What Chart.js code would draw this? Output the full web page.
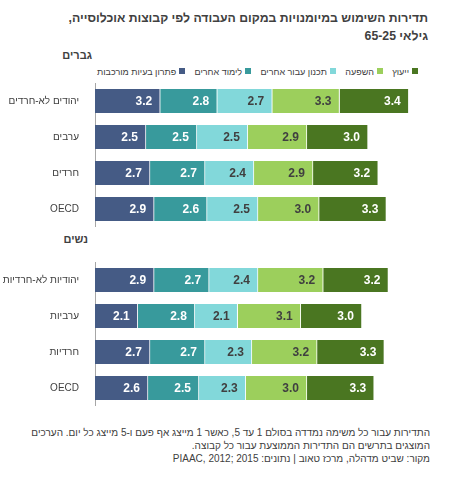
<!DOCTYPE html>
<html>
<head>
<meta charset="utf-8">
<script src="https://cdn.jsdelivr.net/npm/chart.js@4.4.1/dist/chart.umd.min.js"></script>
<style>
  body { margin: 0; background: #fff; font-family: Arial, "Liberation Sans", sans-serif; }
  #wrap { position: relative; width: 471px; height: 498px; overflow: hidden; }
  .title { position: absolute; right: 43px; top: 9px; direction: rtl; text-align: right; white-space: nowrap;
           font-weight: bold; font-size: 15px; line-height: 18px; color: #404040; }
  .section { position: absolute; direction: rtl; text-align: right; font-weight: bold;
             font-size: 11px; color: #404040; white-space: nowrap; }
  #legend { position: absolute; left: 97px; top: 65px; width: 321px; height: 14px; direction: rtl;
            display: flex; justify-content: space-between; align-items: center; white-space: nowrap;
            font-size: 9px; color: #404040; }
  #legend span.box { display: inline-block; width: 6px; height: 6px; margin-left: 3px; vertical-align: 1px; }
  .box-wrap { position: absolute; left: 0; width: 421px; height: 144px; }
  .note { position: absolute; right: 41px; top: 426px; direction: rtl; text-align: right; white-space: nowrap;
          font-size: 11px; line-height: 13px; color: #404040; }
</style>
</head>
<body>
<div id="wrap">
  <div class="title" id="title"><span id="t1">תדירות השימוש במיומנויות במקום העבודה לפי קבוצות אוכלוסייה,</span><br>גילאי 25&rlm;-&rlm;65</div>
  <div class="section" style="right:379px; top:49px;">גברים</div>
  <div id="legend"></div>
  <div class="box-wrap" style="top:83px;"><canvas id="men"></canvas></div>
  <div class="section" style="right:383px; top:233px;">נשים</div>
  <div class="box-wrap" style="top:262px;"><canvas id="women"></canvas></div>
  <div class="note" id="note"><span id="n1">התדירות עבור כל משימה נמדדה בסולם 1 עד 5, כאשר 1 מייצג אף פעם ו-5 מייצג כל יום. הערכים</span><br>המוצגים בתרשים הם התדירות הממוצעת עבור כל קבוצה.<br>מקור: שביט מדהלה, מרכז טאוב | נתונים: PIAAC, 2012; 2015</div>
</div>
<script>
// categories
var menGroups = ['יהודים לא-חרדים', 'ערבים', 'חרדים', 'OECD'];
var womenGroups = ['יהודיות לא-חרדיות', 'ערביות', 'חרדיות', 'OECD'];
var skills = ['פתרון בעיות מורכבות', 'לימוד אחרים', 'תכנון עבור אחרים', 'השפעה', 'ייעוץ'];

// men, one array per skill
var menProblem = [3.2, 2.5, 2.7, 2.9];
var menTeach = [2.8, 2.5, 2.7, 2.6];
var menPlan = [2.7, 2.5, 2.4, 2.5];
var menInfluence = [3.3, 2.9, 2.9, 3.0];
var menAdvise = [3.4, 3.0, 3.2, 3.3];

// women
var womenProblem = [2.9, 2.1, 2.7, 2.6];
var womenTeach = [2.7, 2.8, 2.7, 2.5];
var womenPlan = [2.4, 2.1, 2.3, 2.3];
var womenInfluence = [3.2, 3.1, 3.2, 3.0];
var womenAdvise = [3.2, 3.0, 3.3, 3.3];

var colors = ['#455b85', '#389a9c', '#82d8da', '#9ccf5c', '#4a7621'];
var labelColors = ['#ffffff', '#ffffff', '#404040', '#404040', '#ffffff'];

// shrink a block's font until a given line is no wider than the original
function fitWidth(block, line, target, size) {
    block.style.fontSize = size + 'px';
    while (line.getBoundingClientRect().width > target && size > 6) {
        size -= 0.25;
        block.style.fontSize = size + 'px';
    }
}
fitWidth(document.getElementById('title'), document.getElementById('t1'), 362, 15);
fitWidth(document.getElementById('note'), document.getElementById('n1'), 402, 11);

// html legend, drawn right to left like the original
var legend = document.getElementById('legend');
for (var i = skills.length - 1; i >= 0; i--) {
    var item = document.createElement('div');
    item.innerHTML = '<span class="box" style="background:' + colors[i] + '"></span>' + skills[i];
    legend.appendChild(item);
}

var valueLabels = {
    id: 'valueLabels',
    afterDatasetsDraw: function(chart) {
        var ctx = chart.ctx;
        ctx.save();
        ctx.font = 'bold 12px Arial, "Liberation Sans", sans-serif';
        ctx.textAlign = 'right';
        ctx.textBaseline = 'middle';
        chart.data.datasets.forEach(function(ds, di) {
            var meta = chart.getDatasetMeta(di);
            ctx.fillStyle = labelColors[di];
            meta.data.forEach(function(bar, j) {
                ctx.fillText(ds.data[j].toFixed(1), bar.x - 8, bar.y + 1);
            });
        });
        ctx.restore();
    }
};

function makeChart(id, groups, series) {
    var datasets = series.map(function(vals, i) {
        return {
            label: skills[i],
            data: vals,
            backgroundColor: colors[i],
            borderColor: '#ffffff',
            borderWidth: { left: 0, right: 1, top: 0, bottom: 0 },
            borderSkipped: false,
            barThickness: 24
        };
    });
    return new Chart(document.getElementById(id), {
        type: 'bar',
        data: { labels: groups, datasets: datasets },
        options: {
            indexAxis: 'y',
            responsive: true,
            maintainAspectRatio: false,
            animation: false,
            layout: { padding: 0 },
            plugins: { legend: { display: false }, tooltip: { enabled: false } },
            scales: {
                x: { stacked: true, display: false, min: 0, max: 16 },
                y: {
                    stacked: true,
                    grid: { display: false },
                    border: { display: true, color: '#a6a6a6', width: 1 },
                    ticks: {
                        color: '#404040',
                        padding: 8,
                        font: { size: 10, family: 'Arial, "Liberation Sans", sans-serif' }
                    },
                    afterFit: function(scale) {
                        scale.width = 95;
                        // let the bars use the full height of the box
                        scale.paddingTop = 0;
                        scale.paddingBottom = 0;
                    }
                }
            }
        },
        plugins: [valueLabels]
    });
}

makeChart('men', menGroups, [menProblem, menTeach, menPlan, menInfluence, menAdvise]);
makeChart('women', womenGroups, [womenProblem, womenTeach, womenPlan, womenInfluence, womenAdvise]);
</script>
</body>
</html>
